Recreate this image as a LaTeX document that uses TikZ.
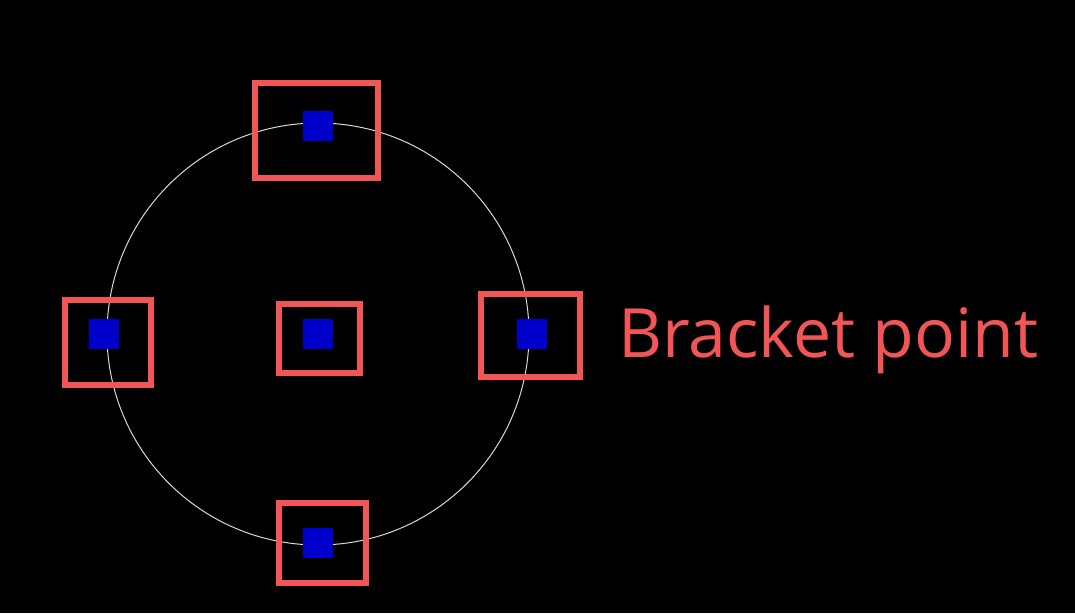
\documentclass[tikz,border=0pt]{standalone}
\usepackage{fontspec}
\setmainfont{Open Sans}
\definecolor{rd}{HTML}{F25555}
\definecolor{bl}{HTML}{0000CC}
\begin{document}
\begin{tikzpicture}[x=1pt,y=-1pt,
  br/.style={draw=rd,line width=6pt},
  pt/.style={fill=bl}]
\fill[black] (0,0) rectangle (1075,613);
\useasboundingbox (0,0) rectangle (1075,613);
\draw[white!85!black,line width=1pt] (318,334) circle (211);
\draw[br] (255,83) rectangle (378,178);
\draw[br] (65,300) rectangle (151,385);
\draw[br] (279,304) rectangle (360,373);
\draw[br] (481,294) rectangle (580,377);
\draw[br] (279,503) rectangle (366,583);
\foreach \x/\y in {318/126,104/334,318/334,532/334,318/543}
  \fill[pt] (\x-15,\y-15) rectangle (\x+15,\y+15);
\node[text=rd,anchor=base west,inner sep=0,font=\fontsize{68}{76}\selectfont] (lbl) at (618,357) {Bracket point};
\end{tikzpicture}
\end{document}
